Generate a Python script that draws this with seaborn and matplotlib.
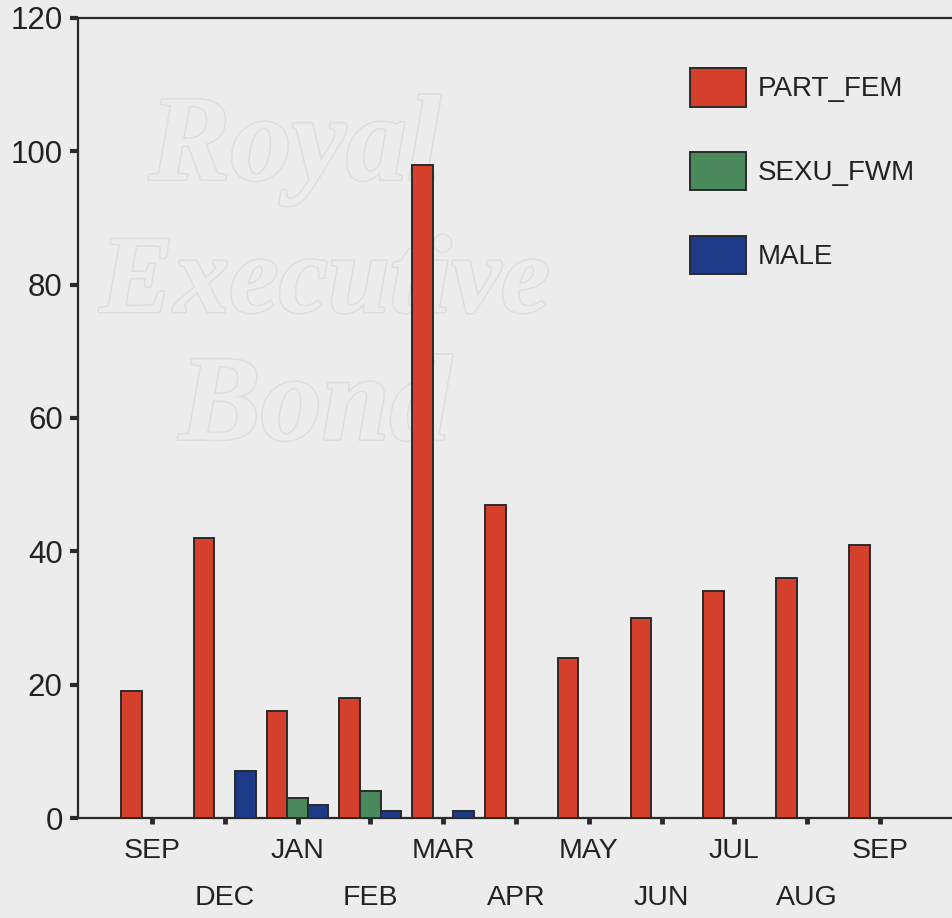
import matplotlib
matplotlib.use("Agg")
import matplotlib.pyplot as plt
import matplotlib.patheffects as pe
from matplotlib.ticker import FixedLocator, NullFormatter
import seaborn as sns
import pandas as pd

# Monthly counts per category
months = ["SEP", "DEC", "JAN", "FEB", "MAR", "APR", "MAY", "JUN", "JUL", "AUG", "SEP"]
part_fem = [19, 42, 16, 18, 98, 47, 24, 30, 34, 36, 41]
sexu_fwm = [0, 0, 3, 4, 0, 0, 0, 0, 0, 0, 0]
male = [0, 7, 2, 1, 1, 0, 0, 0, 0, 0, 0]
series_names = ["PART_FEM", "SEXU_FWM", "MALE"]
series_colors = ["#d4402c", "#4a8a5a", "#1f3a88"]

rows = []
for i in range(len(months)):
    for name, vals in zip(series_names, [part_fem, sexu_fwm, male]):
        rows.append({"period": i, "series": name, "count": vals[i]})
df = pd.DataFrame(rows)

sns.set_theme(style="white")
plt.rcParams["font.family"] = ["Liberation Sans", "DejaVu Sans"]

bg = "#ececec"
fig = plt.figure(figsize=(9.52, 9.18), dpi=100, facecolor=bg)
ax = fig.add_axes([78 / 952, 1 - 818 / 918, (952 - 78) / 952, 800 / 918])
ax.set_facecolor(bg)

# faint background stamp, kept behind the bars
stamp_kw = dict(family="Liberation Serif", style="italic", weight="bold",
                color=bg, ha="center", va="center", zorder=0.5, clip_on=False,
                transform=fig.transFigure,
                path_effects=[pe.Stroke(linewidth=2.2, foreground="#dddddd"), pe.Normal()])
ax.text(295 / 952, 1 - 150 / 918, "Royal", fontsize=88, **stamp_kw)
ax.text(325 / 952, 1 - 285 / 918, "Executive", fontsize=80, **stamp_kw)
ax.text(315 / 952, 1 - 410 / 918, "Bond", fontsize=88, **stamp_kw)

sns.barplot(data=df, x="period", y="count", hue="series", hue_order=series_names,
            palette=series_colors, width=0.85, saturation=1, edgecolor="#2a2a2a",
            linewidth=1.4, ax=ax, legend=True, zorder=3)

ax.set_xlim(-1.016, 10.99)
ax.set_ylim(0, 120)
ax.set_xlabel("")
ax.set_ylabel("")

# spines
for side in ["left", "bottom", "top"]:
    ax.spines[side].set_visible(True)
    ax.spines[side].set_color("#2a2a2a")
    ax.spines[side].set_linewidth(1.6)
ax.spines["right"].set_visible(False)

# y axis
ax.set_yticks([0, 20, 40, 60, 80, 100, 120])
ax.set_yticklabels(["0", "20", "40", "60", "80", "100", "120"])
ax.tick_params(axis="y", direction="out", length=6, width=3, color="#2a2a2a",
               pad=5, labelsize=22.5, labelcolor="#222222", left=True)

# x axis: labels alternate between two rows
even = list(range(0, len(months), 2))
odd = list(range(1, len(months), 2))
ax.xaxis.set_major_locator(FixedLocator(even))
ax.set_xticklabels([months[i] for i in even])
ax.xaxis.set_minor_locator(FixedLocator(odd))
ax.xaxis.set_minor_formatter(NullFormatter())
ax.set_xticks(odd, [months[i] for i in odd], minor=True)
ax.tick_params(axis="x", which="both", direction="out", length=4.5, width=3.5,
               color="#2a2a2a", labelsize=20.5, labelcolor="#222222", bottom=True)
ax.tick_params(axis="x", which="major", pad=10)
ax.tick_params(axis="x", which="minor", pad=44)

handles, labels = ax.get_legend_handles_labels()
ax.legend(handles, labels, loc="upper left", bbox_to_anchor=(690 / 952, 1 - 68 / 918),
          bbox_transform=fig.transFigure, frameon=False, fontsize=20,
          handlelength=2.0, handleheight=1.76, labelspacing=1.63, handletextpad=0.45,
          borderpad=0, borderaxespad=0, labelcolor="#222222")

fig.savefig("out.png", dpi=100, facecolor=bg)
